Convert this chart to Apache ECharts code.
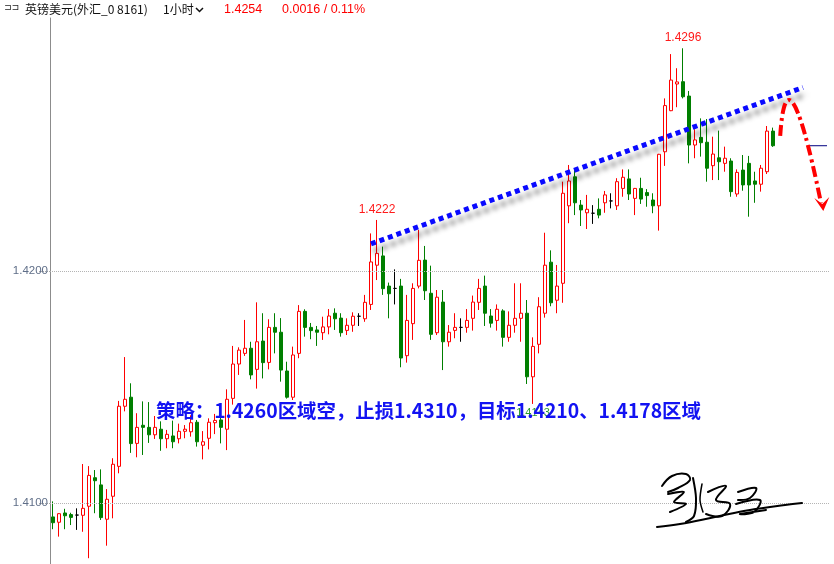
<!DOCTYPE html>
<html><head><meta charset="utf-8">
<script src="https://cdn.jsdelivr.net/npm/echarts@6/dist/echarts.min.js"></script>
<style>html,body{margin:0;padding:0;background:#fff}#c{width:834px;height:564px}</style>
</head><body><div id="c"></div>
<script>
// ---- data (hourly GBP/USD candles) ----
const categories = Array.from({length:130}, (_, i) => 'K' + i);
const openP = [1.40940,1.40917,1.40957,1.40950,1.40948,1.40947,1.40986,1.41109,1.41078,1.40930,
1.41029,1.41158,1.41417,1.41456,1.41257,1.41335,1.41326,1.41294,1.41318,1.41277,
1.41289,1.41277,1.41309,1.41307,1.41348,1.41249,1.41279,1.41346,1.41358,1.41318,
1.41451,1.41599,1.41645,1.41667,1.41576,1.41698,1.41606,1.41757,1.41736,1.41569,
1.41456,1.41645,1.41826,1.41757,1.41746,1.41734,1.41759,1.41818,1.41797,1.41744,
1.41766,1.41805,1.41794,1.41856,1.42025,1.42065,1.41935,1.41925,1.41935,1.41635,
1.41773,1.41935,1.42047,1.41904,1.41734,1.41866,1.41695,1.41744,1.41757,1.41757,
1.41796,1.41865,1.41935,1.41806,1.41787,1.41828,1.41714,1.41766,1.41796,1.41818,
1.41544,1.41684,1.41818,1.42038,1.41874,1.41947,1.42281,1.42406,1.42284,1.42251,
1.42249,1.42266,1.42294,1.42302,1.42281,1.42356,1.42397,1.42313,1.42356,1.42338,
1.42306,1.42281,1.42514,1.42691,1.42806,1.42816,1.42754,1.42543,1.42576,1.42555,
1.42454,1.42488,1.42464,1.42474,1.42332,1.42435,1.42464,1.42388,1.42374,1.42428,
1.42603];
const closeP = [1.40915,1.40954,1.40945,1.40938,1.40948,1.40977,1.41119,1.41096,1.40937,1.41016,
1.41167,1.41417,1.41447,1.41256,1.41326,1.41326,1.41294,1.41326,1.41277,1.41296,
1.41264,1.41309,1.41318,1.41346,1.41264,1.41264,1.41348,1.41356,1.41326,1.41447,
1.41599,1.41659,1.41667,1.41552,1.41695,1.41605,1.41757,1.41736,1.41573,1.41456,
1.41638,1.41826,1.41757,1.41743,1.41736,1.41759,1.41806,1.41794,1.41734,1.41766,
1.41805,1.41805,1.41865,1.42039,1.42076,1.41924,1.41902,1.41925,1.41625,1.41787,
1.41925,1.42046,1.41915,1.41727,1.41887,1.41695,1.41736,1.41757,1.41757,1.41787,
1.41866,1.41925,1.41818,1.41775,1.41835,1.41714,1.41766,1.41796,1.41818,1.41544,
1.41675,1.41846,1.42025,1.41863,1.41935,1.42335,1.42388,1.42294,1.42263,1.42266,
1.42249,1.42241,1.42328,1.42302,1.42385,1.42404,1.42332,1.42356,1.42310,1.42325,
1.42281,1.42503,1.42713,1.42823,1.42815,1.42751,1.42543,1.42565,1.42553,1.42443,
1.42504,1.42471,1.42486,1.42342,1.42425,1.42371,1.42371,1.42374,1.42443,1.42603,
1.42540];
const lowP = [1.40887,1.40855,1.40887,1.40905,1.40884,1.40876,1.40762,1.40956,1.40927,1.40816,
1.40934,1.41128,1.41395,1.41216,1.41197,1.41207,1.41259,1.41276,1.41225,1.41236,
1.41236,1.41257,1.41279,1.41286,1.41243,1.41188,1.41231,1.41297,1.41257,1.41228,
1.41424,1.41552,1.41634,1.41533,1.41493,1.41537,1.41576,1.41645,1.41523,1.41450,
1.41444,1.41624,1.41717,1.41706,1.41677,1.41703,1.41727,1.41746,1.41717,1.41724,
1.41738,1.41763,1.41781,1.41832,1.41961,1.41897,1.41796,1.41856,1.41585,1.41605,
1.41703,1.41925,1.41875,1.41703,1.41724,1.41573,1.41674,1.41710,1.41695,1.41734,
1.41743,1.41832,1.41763,1.41756,1.41743,1.41674,1.41695,1.41734,1.41695,1.41513,
1.41427,1.41645,1.41799,1.41848,1.41818,1.41863,1.42206,1.42241,1.42194,1.42181,
1.42203,1.42227,1.42251,1.42270,1.42263,1.42320,1.42306,1.42241,1.42289,1.42277,
1.42249,1.42174,1.42453,1.42689,1.42706,1.42744,1.42464,1.42486,1.42493,1.42385,
1.42392,1.42392,1.42428,1.42320,1.42320,1.42346,1.42234,1.42294,1.42342,1.42418,
1.42535];
const highP = [1.41007,1.40956,1.40975,1.40958,1.40977,1.41168,1.41159,1.41142,1.41145,1.41060,
1.41193,1.41440,1.41629,1.41516,1.41387,1.41438,1.41435,1.41375,1.41352,1.41315,
1.41355,1.41342,1.41336,1.41378,1.41358,1.41310,1.41365,1.41384,1.41382,1.41490,
1.41677,1.41671,1.41789,1.41695,1.41865,1.41818,1.41792,1.41818,1.41797,1.41609,
1.41674,1.41853,1.41835,1.41776,1.41763,1.41803,1.41836,1.41839,1.41818,1.41796,
1.41822,1.41818,1.41897,1.42162,1.42220,1.42105,1.41950,1.42007,1.41966,1.41897,
1.41947,1.42177,1.42108,1.42023,1.41918,1.41918,1.41767,1.41818,1.41796,1.41836,
1.41894,1.41966,1.41980,1.41836,1.41856,1.41835,1.41826,1.41947,1.41947,1.41875,
1.41714,1.41887,1.42165,1.42089,1.42026,1.42385,1.42457,1.42435,1.42306,1.42328,
1.42284,1.42313,1.42345,1.42335,1.42400,1.42438,1.42438,1.42358,1.42402,1.42353,
1.42335,1.42505,1.42744,1.42935,1.42874,1.42960,1.42776,1.42611,1.42658,1.42655,
1.42579,1.42605,1.42536,1.42486,1.42438,1.42500,1.42496,1.42428,1.42457,1.42625,
1.42618];
const yTickValues = [1.41, 1.42];
const highLabels = [[54, 1.4222, '1.4222'], [105, 1.4296, '1.4296']];
const lowLabels = [[80, 1.41427, '1.4143']];
const trendLine = [[53, 1.42117], [125, 1.42791]];
const lastPriceLine = [[126, 1.4254], [129, 1.4254]];
// arrow annotation anchors (category index, price)
const arrowStart = [121.2, 1.42582];
const arrowCtrl1 = [121.8, 1.42823];
const arrowCtrl2 = [123.8, 1.42823];
const arrowEnd = [128.0, 1.42293];
const headerTexts = ['英镑美元(外汇_0 8161)', '1小时', '1.4254', '0.0016 / 0.11%'];
const strategyText = '策略：1.4260区域空，止损1.4310，目标1.4210、1.4178区域';

const candleData = openP.map((o, i) => [o, closeP[i], lowP[i], highP[i]]);
const yMin = 1.42 - 293 / 23200;
const yMax = 1.42 + 253 / 23200;

const chart = echarts.init(document.getElementById('c'), null, {renderer: 'canvas'});
chart.setOption({
  animation: false,
  backgroundColor: '#ffffff',
  grid: {left: 50, right: 4, top: 18, bottom: 0, outerBoundsMode: 'none'},
  xAxis: {type: 'category', data: categories, boundaryGap: true, show: false},
  yAxis: {
    type: 'value', min: yMin, max: yMax, scale: true,
    axisLine: {show: true, lineStyle: {color: '#8c8c8c', width: 1}},
    axisTick: {show: true, customValues: yTickValues, length: 12, inside: false,
      lineStyle: {color: '#a8a8a8', type: 'dotted'}},
    axisLabel: {show: true, customValues: yTickValues, color: '#5f6e88', fontSize: 11.5,
      fontFamily: 'Liberation Sans', margin: 2,
      formatter: v => v.toFixed(4)},
    splitLine: {show: false}
  },
  series: [
    {
      type: 'candlestick', data: candleData, barWidth: 4, z: 2,
      itemStyle: {color: '#ffffff', color0: '#007f00', borderColor: '#ff0000',
        borderColor0: '#007f00', borderColorDoji: '#000000', borderWidth: 1},
      markLine: {
        silent: true, symbol: 'none', animation: false,
        label: {show: false},
        lineStyle: {color: '#b4b4b4', type: 'dotted', width: 1},
        data: yTickValues.map(v => ({yAxis: v}))
      },
      markPoint: {
        silent: true, animation: false,
        data: highLabels.map(h => ({coord: [h[0], h[1]], symbol: 'circle', symbolSize: 1,
          itemStyle: {color: 'rgba(0,0,0,0)'},
          label: {show: true, position: 'top', distance: 4, formatter: h[2], color: '#ff1a1a',
            fontSize: 12, fontFamily: 'Liberation Sans'}}))
          .concat(lowLabels.map(h => ({coord: [h[0], h[1]], symbol: 'circle', symbolSize: 1,
          itemStyle: {color: 'rgba(0,0,0,0)'},
          label: {show: true, position: 'bottom', distance: 3, formatter: h[2], color: '#2a9a2a',
            fontSize: 11, fontFamily: 'Liberation Sans'}})))
      }
    },
    {
      type: 'line', data: trendLine, symbol: 'none', z: 5, silent: true,
      lineStyle: {color: '#0a0aff', width: 5, type: [5, 4], cap: 'butt',
        shadowColor: 'rgba(0,0,0,0.45)', shadowBlur: 5, shadowOffsetX: 3, shadowOffsetY: 7}
    },
    {
      type: 'line', data: lastPriceLine, symbol: 'none', z: 4, silent: true,
      lineStyle: {color: '#000080', width: 1}
    }
  ]
});

function px(pt) {
  const a = chart.convertToPixel({gridIndex: 0}, [0, pt[1]]);
  const b = chart.convertToPixel({gridIndex: 0}, [1, pt[1]]);
  return [a[0] + (b[0] - a[0]) * pt[0], a[1]];
}
const s = px(arrowStart), c1 = px(arrowCtrl1), c2 = px(arrowCtrl2), e = px(arrowEnd);
const tip = [e[0] + 2.3, e[1] + 8];
const sig = {stroke: '#000', lineWidth: 2, fill: null, lineCap: 'round', lineJoin: 'round'};

const graphics = [
  // header
  {type: 'text', left: 4, top: 3, style: {text: '⊐⊐', font: '9px "DejaVu Sans"', fill: '#222'}},
  {type: 'text', left: 25, top: 3, style: {text: headerTexts[0], font: '12px "Noto Sans CJK SC"', fill: '#111'}},
  {type: 'text', left: 163, top: 3, style: {text: headerTexts[1], font: '12px "Noto Sans CJK SC"', fill: '#111'}},
  {type: 'polyline', shape: {points: [[196, 8], [199.5, 11.5], [203, 8]]}, style: {stroke: '#111', lineWidth: 1.5, fill: null}},
  {type: 'text', left: 224, top: 3, style: {text: headerTexts[2], font: '12.5px "Liberation Sans"', fill: '#ff0000'}},
  {type: 'text', left: 282, top: 3, style: {text: headerTexts[3], font: '12.5px "Liberation Sans"', fill: '#ff0000'}},
  // strategy text
  {type: 'text', left: 156, top: 401, z: 20, style: {text: strategyText,
    font: 'bold 19.4px "Noto Sans CJK SC"', fill: '#1212f2'}},
  // red dash-dot arrow
  {type: 'bezierCurve', z: 20, shape: {x1: s[0], y1: s[1], cpx1: c1[0], cpy1: c1[1], cpx2: c2[0], cpy2: c2[1], x2: e[0], y2: e[1]},
    style: {stroke: '#ff0000', lineWidth: 4, lineDash: [11, 4, 3, 4], fill: null}},
  {type: 'polygon', z: 20, shape: {points: [[tip[0] - 9, tip[1] - 13], [tip[0] - 1, tip[1] - 7], [tip[0] + 6, tip[1] - 14], tip]},
    style: {fill: '#ff0000'}},
  // signature (decorative strokes)
  {type: 'polyline', z: 20, shape: {points: [[657, 527], [680, 524], [715, 517], [750, 510], [785, 505], [802, 503]], smooth: 0.4}, style: sig},
  {type: 'polyline', z: 20, shape: {points: [[662, 486], [672, 476], [686, 474], [690, 480], [678, 488], [668, 492]], smooth: 0.4}, style: sig},
  {type: 'polyline', z: 20, shape: {points: [[668, 494], [684, 492], [674, 502], [686, 504], [670, 512]], smooth: 0.3}, style: sig},
  {type: 'polyline', z: 20, shape: {points: [[693, 478], [696, 498], [694, 516], [686, 522]], smooth: 0.3}, style: sig},
  {type: 'polyline', z: 20, shape: {points: [[702, 484], [700, 500], [703, 512]], smooth: 0.3}, style: Object.assign({}, sig, {lineWidth: 1.5})},
  {type: 'polyline', z: 20, shape: {points: [[708, 492], [726, 486], [716, 500], [730, 504], [722, 516], [706, 514]], smooth: 0.4}, style: sig},
  {type: 'polyline', z: 20, shape: {points: [[738, 492], [756, 488], [750, 498], [738, 500]], smooth: 0.4}, style: sig},
  {type: 'polyline', z: 20, shape: {points: [[736, 504], [760, 500], [754, 512], [740, 514], [766, 510]], smooth: 0.4}, style: sig}
];
chart.setOption({graphic: graphics});
</script>
</body></html>
